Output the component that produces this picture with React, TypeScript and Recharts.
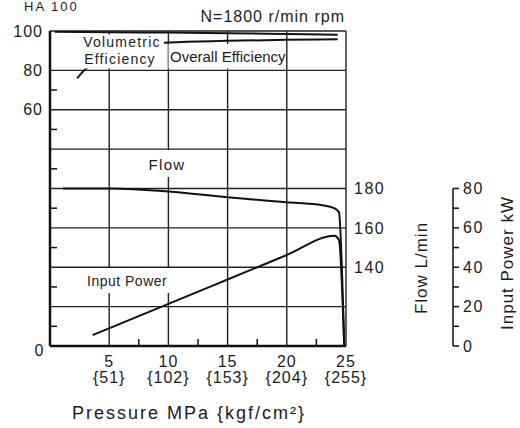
import React from "react";
import { LineChart, Line, XAxis, YAxis, CartesianGrid } from "recharts";

// pump performance curves, N = 1800 r/min
const volPressure = [0.4, 5, 10, 15, 20, 24.3];
const volEfficiency = [99.6, 99.4, 99.2, 98.9, 98.5, 98.1];

const overallPressure = [2.3, 2.8, 4, 6, 8, 10, 15, 20, 24.3];
const overallEfficiency = [76, 79.5, 85, 90, 92.5, 94.2, 95, 95.5, 95.8];

const flowPressure = [1.1, 5, 10, 15, 20, 23, 24, 24.4, 24.85];
const flowValues = [180, 180, 178.5, 175.5, 173, 171.5, 170, 168, 100];

const powerPressure = [3.6, 10, 15, 20, 24, 24.4, 24.85];
const powerValues = [5.5, 21.4, 33.8, 46.2, 56, 54, 0];

const pressureTicks = [0, 5, 10, 15, 20, 25];
const kgfLabels = ["", "{51}", "{102}", "{153}", "{204}", "{255}"];
const pressureMinorTicks = [7.5, 12.5, 17.5, 22.5];
const effTicks = [60, 80, 100];
const effMinorTicks = [-50, -30, -10, 10, 30, 50, 70];
const effGrid = [-40, -20, 0, 20, 40, 60, 80, 100];
const flowTicks = [140, 160, 180];
const powerTicks = [0, 20, 40, 60, 80];
const powerMinorTicks = [10, 30, 50, 70];

const W = 520;
const H = 428;
const TOP = 31;
const XAXIS_H = 82;
const PLOT_H = H - TOP - XAXIS_H;
const POWER_MAX = 160;

const FONT = "Liberation Sans, Arial, sans-serif";
const INK = "#1c1c1c";
const LINE = "#111";

const toPoints = (xs: number[], ys: number[]) => xs.map((p, i) => ({ p, v: ys[i] }));

const volData = toPoints(volPressure, volEfficiency);
const overallData = toPoints(overallPressure, overallEfficiency);
const flowData = toPoints(flowPressure, flowValues);
const powerData = toPoints(powerPressure, powerValues);

const sortNum = (a: number, b: number) => a - b;

function PressureTick(props: any) {
  const { x, y, payload } = props;
  const v = payload.value;
  if (pressureMinorTicks.includes(v)) {
    return <line x1={x} y1={y} x2={x} y2={y - 7} stroke={LINE} strokeWidth={1.5} />;
  }
  if (v === 0) {
    return (
      <text x={x - 11} y={y + 9.5} textAnchor="middle" fontSize={16} fontFamily={FONT} fill={INK}>
        0
      </text>
    );
  }
  const idx = pressureTicks.indexOf(v);
  return (
    <g fontSize={16} fontFamily={FONT} fill={INK} letterSpacing={1}>
      <text x={x} y={y + 21} textAnchor="middle">{v}</text>
      <text x={x} y={y + 37} textAnchor="middle">{kgfLabels[idx]}</text>
    </g>
  );
}

function EffTick(props: any) {
  const { x, y, payload } = props;
  const v = payload.value;
  if (effMinorTicks.includes(v)) {
    return <line x1={x} y1={y} x2={x + 7} y2={y} stroke={LINE} strokeWidth={1.5} />;
  }
  return (
    <text x={x - 7} y={y + 5.5} textAnchor="end" fontSize={16} fontFamily={FONT} fill={INK} letterSpacing={1}>
      {v}
    </text>
  );
}

function PowerTick(props: any) {
  const { x, y, payload } = props;
  const v = payload.value;
  const step = (PLOT_H * 10) / POWER_MAX;
  return (
    <g>
      <line x1={x} y1={y} x2={x + 6} y2={y} stroke={LINE} strokeWidth={1.5} />
      {v > 0 && <line x1={x} y1={y} x2={x} y2={y + step} stroke={LINE} strokeWidth={1.5} />}
      {powerTicks.includes(v) && (
        <text x={x + 10} y={y + 5.5} textAnchor="start" fontSize={16} fontFamily={FONT} fill={INK} letterSpacing={1.5}>
          {v}
        </text>
      )}
    </g>
  );
}

// text drawn over the plot; white boxes break the grid and curves like the original
function Annotations() {
  return (
    <svg
      width={W}
      height={H}
      style={{ position: "absolute", left: 0, top: 0, pointerEvents: "none" }}
    >
      <g fontFamily={FONT} fill={INK}>
        <text x={24} y={11} fontSize={13} letterSpacing={2}>HA 100</text>
        <text x={345} y={22} fontSize={16} letterSpacing={1} textAnchor="end">N=1800 r/min rpm</text>

        <rect x={80} y={34.5} width={84} height={34} fill="#fff" />
        <text x={122} y={47} fontSize={14} letterSpacing={1.2} textAnchor="middle">Volumetric</text>
        <text x={120} y={64} fontSize={14} letterSpacing={1.2} textAnchor="middle">Efficiency</text>

        <rect x={168.5} y={44} width={116} height={24.5} fill="#fff" />
        <text x={170} y={62} fontSize={15}>Overall Efficiency</text>

        <rect x={147} y={150} width={40} height={27} fill="#fff" />
        <text x={167} y={170} fontSize={15} letterSpacing={1.3} textAnchor="middle">Flow</text>

        <rect x={84} y={268} width={88} height={25} fill="#fff" />
        <text x={87} y={285.5} fontSize={14} letterSpacing={0.5}>Input Power</text>

        <text x={72} y={419} fontSize={18} letterSpacing={2}>
          Pressure  MPa {"{kgf/cm²}"}
        </text>

        <text
          x={421}
          y={268}
          fontSize={17}
          letterSpacing={1}
          textAnchor="middle"
          dominantBaseline="central"
          transform="rotate(-90 421 268)"
        >
          Flow  L/min
        </text>
        <text
          x={507}
          y={263}
          fontSize={17}
          letterSpacing={1}
          textAnchor="middle"
          dominantBaseline="central"
          transform="rotate(-90 507 263)"
        >
          Input Power kW
        </text>
      </g>
    </svg>
  );
}

export default function App() {
  return (
    <div style={{ position: "absolute", left: 0, top: 0, width: W, height: H, background: "#fff" }}>
      <LineChart width={W} height={H} margin={{ top: TOP, right: 0, bottom: 0, left: 0 }}>
        <CartesianGrid
          yAxisId="eff"
          horizontalValues={effGrid}
          verticalValues={[5, 10, 15, 20, 25]}
          stroke="#222"
          strokeWidth={1.4}
        />
        <XAxis
          type="number"
          dataKey="p"
          domain={[0, 25]}
          ticks={[...pressureTicks, ...pressureMinorTicks].sort(sortNum)}
          interval={0}
          height={XAXIS_H}
          tickLine={false}
          tickSize={0}
          tickMargin={0}
          tick={<PressureTick />}
          axisLine={{ stroke: LINE, strokeWidth: 2.5 }}
          allowDataOverflow
        />
        <YAxis
          yAxisId="eff"
          orientation="left"
          type="number"
          domain={[-60, 100]}
          ticks={[...effMinorTicks, ...effTicks].sort(sortNum)}
          interval={0}
          width={50}
          tickLine={false}
          tickSize={0}
          tickMargin={0}
          tick={<EffTick />}
          axisLine={{ stroke: LINE, strokeWidth: 2.5 }}
          allowDataOverflow
        />
        <YAxis
          yAxisId="flow"
          orientation="right"
          type="number"
          domain={[100, 260]}
          ticks={flowTicks}
          interval={0}
          width={107}
          tickLine={false}
          axisLine={false}
          tick={{ fill: INK, fontSize: 16, fontFamily: FONT, letterSpacing: 1.5 }}
          allowDataOverflow
        />
        <YAxis
          yAxisId="power"
          orientation="right"
          type="number"
          domain={[0, POWER_MAX]}
          ticks={[...powerTicks, ...powerMinorTicks].sort(sortNum)}
          interval={0}
          width={67}
          tickLine={false}
          tickSize={0}
          tickMargin={0}
          axisLine={false}
          tick={<PowerTick />}
          allowDataOverflow
        />
        <Line
          yAxisId="eff"
          data={volData}
          dataKey="v"
          type="monotone"
          stroke={LINE}
          strokeWidth={2}
          dot={false}
          isAnimationActive={false}
        />
        <Line
          yAxisId="eff"
          data={overallData}
          dataKey="v"
          type="monotone"
          stroke={LINE}
          strokeWidth={2}
          dot={false}
          isAnimationActive={false}
        />
        <Line
          yAxisId="flow"
          data={flowData}
          dataKey="v"
          type="monotone"
          stroke={LINE}
          strokeWidth={2}
          dot={false}
          isAnimationActive={false}
        />
        <Line
          yAxisId="power"
          data={powerData}
          dataKey="v"
          type="monotone"
          stroke={LINE}
          strokeWidth={2}
          dot={false}
          isAnimationActive={false}
        />
      </LineChart>
      <Annotations />
    </div>
  );
}
